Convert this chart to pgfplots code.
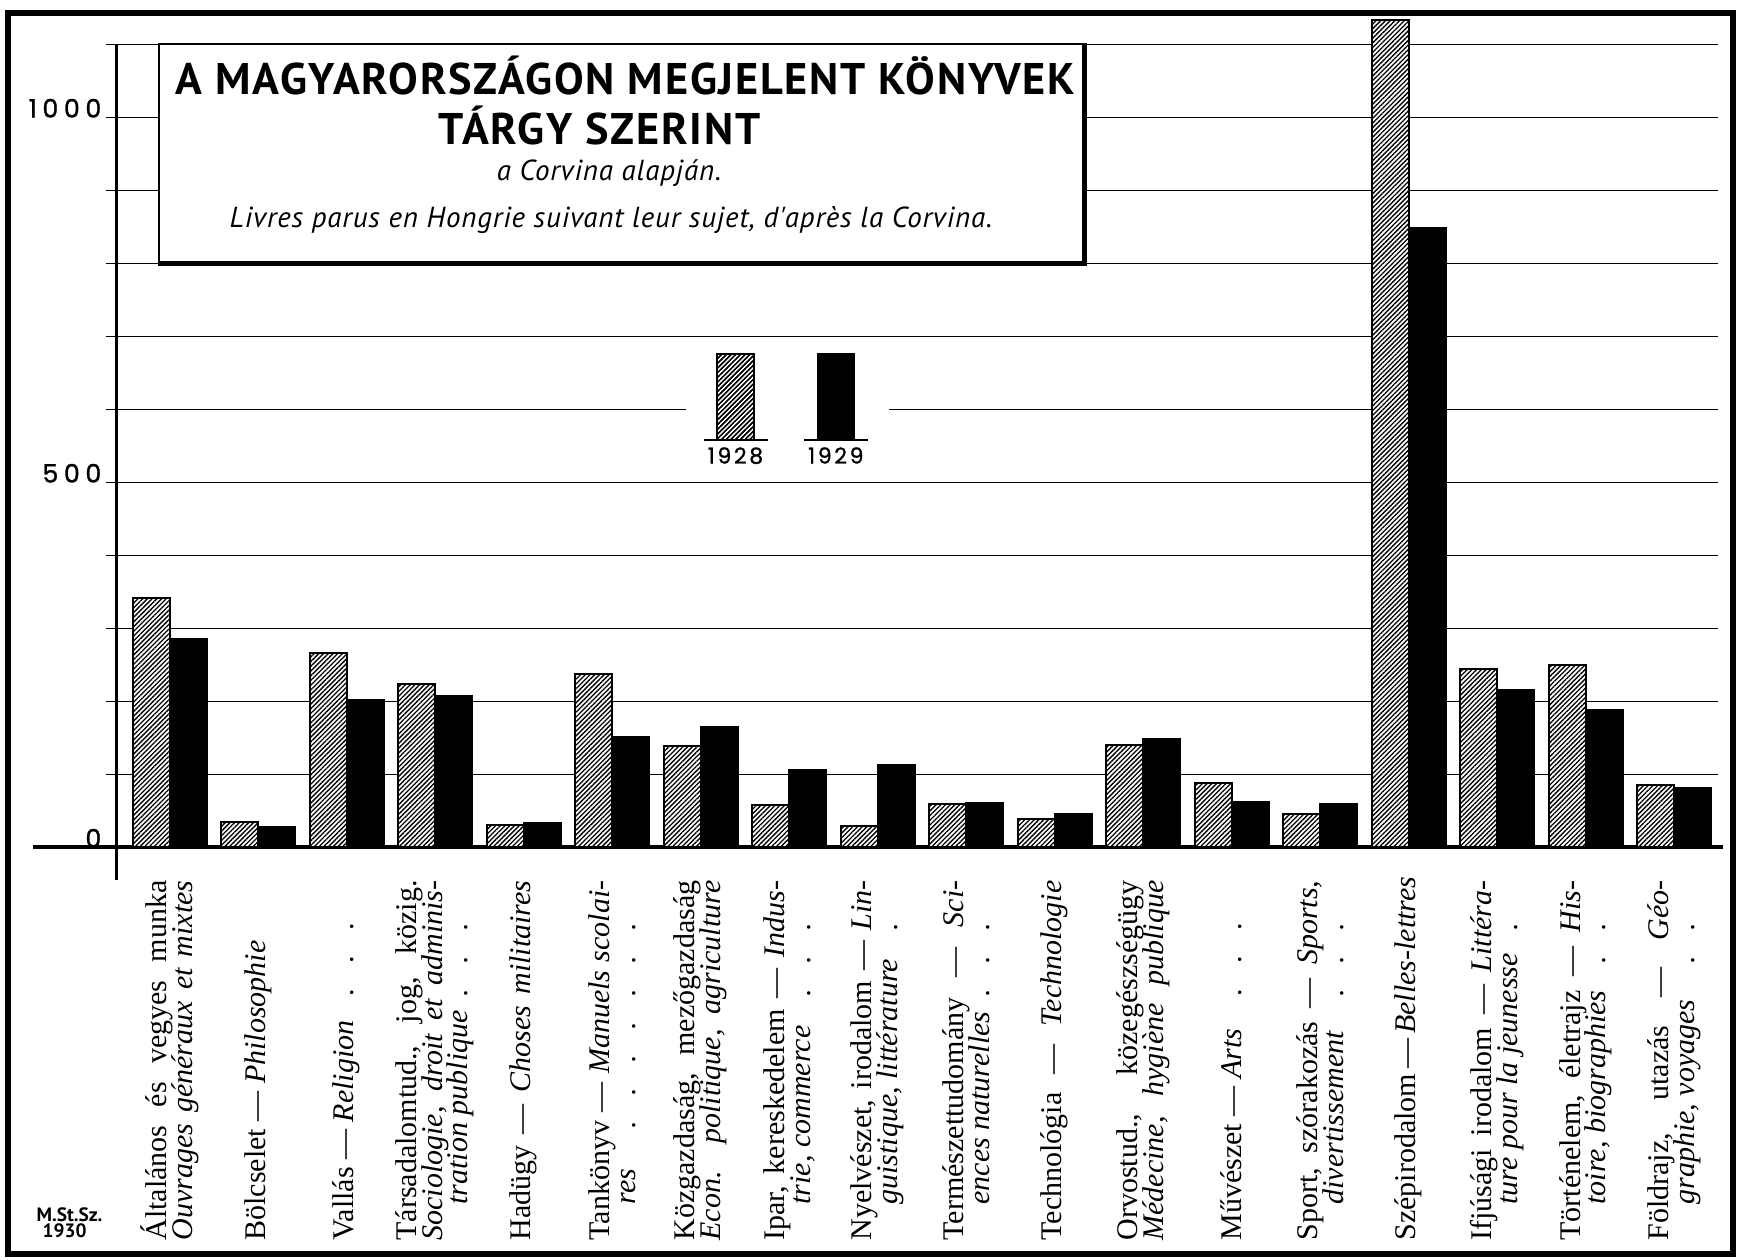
\documentclass[border=0pt]{standalone}
\usepackage{fontspec}
\usepackage{pgfplots}
\pgfplotsset{compat=1.18}
\usepackage{pgfplotstable}
\usetikzlibrary{patterns.meta}
\setmainfont{Liberation Serif}
\newfontfamily\titlefont[LetterSpace=4]{PT Sans}
\newfontfamily\subfont[LetterSpace=3]{PT Sans}
\newfontfamily\tickfont[LetterSpace=22,FakeBold=1.2]{Poppins}
\newfontfamily\legfont[LetterSpace=12,FakeBold=1]{Poppins}
\newfontfamily\markfont{PT Sans}

\newcommand\Lline[1]{\hbox to 108pt{#1}}
\newcommand\dotlead{\leaders\hbox to 1.1em{\hss.\hss}\hfill}
\newcommand\catlab[1]{\parbox{108pt}{\fontsize{9}{7.7}\selectfont\lineskiplimit=-100pt\lineskip=0pt #1}}

\pgfplotstableread{
x y
0 342
1 35
2 266
3 224
4 31
5 237
6 139
7 58
8 29
9 59
10 39
11 141
12 88
13 46
14 1133
15 245
16 250
17 86
}\tA
\pgfplotstableread{
x y
0 286
1 28
2 202
3 207
4 34
5 151
6 165
7 106
8 113
9 61
10 46
11 148
12 62
13 60
14 849
15 216
16 188
17 81
}\tB

\begin{document}
\begin{tikzpicture}
\path[use as bounding box] (0pt,0pt) rectangle (523.2pt,378pt);
\begin{axis}[
 at={(35.1pt,123.75pt)}, anchor=south west,
 scale only axis, width=480.3pt, height=240.9pt,
 xmin=-0.594, xmax=17.496, ymin=0, ymax=1100,
 clip=false,
 axis x line=bottom, axis y line=left,
 x axis line style={-, line width=1.2pt, shorten <=-25.2pt, shorten >=-1.5pt},
 y axis line style={-, line width=0.9pt, shorten <=-9.8pt},
 ytick={0,100,...,1100},
 yticklabels={0,,,,,500,,,,,1000,},
 ymajorgrids, grid style={line width=0.55pt, black},
 tick align=outside, major tick length=3.3pt,
 ytick style={line width=0.55pt, black},
 yticklabel style={anchor=base east, inner sep=0pt, font=\tickfont\fontsize{7.6}{7.6}\selectfont, xshift=-1.2pt},
 xtick={0,...,17}, xtick style={draw=none},
 xticklabel style={rotate=90, anchor=east, inner sep=0pt},
 xticklabel shift=6.4pt,
 xticklabels={
 {\catlab{\Lline{Általános és vegyes munka}\Lline{\itshape Ouvrages généraux et mixtes}}},
 {\catlab{\Lline{Bölcselet — \textit{Philosophie}\dotlead}}},
 {\catlab{\Lline{Vallás — \textit{Religion}\dotlead}}},
 {\catlab{\Lline{Társadalomtud., jog, közig.}\Lline{\itshape Sociologie, droit et adminis-}\Lline{\hspace*{1.2em}\itshape tration publique\dotlead}}},
 {\catlab{\Lline{Hadügy — \textit{Choses militaires}}}},
 {\catlab{\Lline{Tankönyv — \textit{Manuels scolai-}}\Lline{\hspace*{1.2em}\itshape res\dotlead}}},
 {\catlab{\Lline{Közgazdaság, mezőgazdaság}\Lline{\itshape Econ. politique, agriculture}}},
 {\catlab{\Lline{Ipar, kereskedelem — \textit{Indus-}}\Lline{\hspace*{1.2em}\itshape trie, commerce\dotlead}}},
 {\catlab{\Lline{Nyelvészet, irodalom — \textit{Lin-}}\Lline{\hspace*{1.2em}\itshape guistique, littérature\dotlead}}},
 {\catlab{\Lline{Természettudomány — \textit{Sci-}}\Lline{\hspace*{1.2em}\itshape ences naturelles\dotlead}}},
 {\catlab{\Lline{Technológia — \textit{Technologie}}}},
 {\catlab{\Lline{Orvostud., közegészségügy}\Lline{\itshape Médecine, hygiène publique}}},
 {\catlab{\Lline{Művészet — \textit{Arts}\dotlead}}},
 {\catlab{\Lline{Sport, szórakozás — \textit{Sports,}}\Lline{\hspace*{1.2em}\itshape divertissement\dotlead}}},
 {\catlab{\Lline{Szépirodalom — \textit{Belles-lettres}}}},
 {\catlab{\Lline{Ifjúsági irodalom — \textit{Littéra-}}\Lline{\hspace*{1.2em}\itshape ture pour la jeunesse\dotlead}}},
 {\catlab{\Lline{Történelem, életrajz — \textit{His-}}\Lline{\hspace*{1.2em}\itshape toire, biographies\dotlead}}},
 {\catlab{\Lline{Földrajz, utazás — \textit{Géo-}}\Lline{\hspace*{1.2em}\itshape graphie, voyages\dotlead}}}
 },
 ybar, bar width=0.418,
 legend style={at={(0.4187,0.5436)}, anchor=center, draw=none, fill=white,
   inner xsep=5pt, inner ysep=2pt, legend columns=2, nodes={inner sep=0pt},
   /tikz/every even column/.append style={column sep=9.3pt}},
]
\addplot[draw=black, line width=0.6pt, fill=white,
  postaction={pattern={Lines[angle=45,distance=1pt,line width=0.4pt]}},
  bar shift=-0.209,
  legend image code/.code={
    \draw[line width=0.6pt] (-9.6pt,0pt) -- (9.6pt,0pt);
    \draw[line width=0.6pt, fill=white, postaction={pattern={Lines[angle=45,distance=1pt,line width=0.4pt]}}] (-5.5pt,0pt) rectangle (5.5pt,25.8pt);
    \node[inner sep=0pt, anchor=north, font=\legfont\fontsize{6.6}{6.6}\selectfont] at (0pt,-1.8pt) {1928};
  }] table[x=x,y=y]{\tA};
\addlegendentry{}
\addplot[draw=black, fill=black, line width=0.6pt, bar shift=0.209,
  legend image code/.code={
    \draw[line width=0.6pt] (-9.6pt,0pt) -- (9.6pt,0pt);
    \draw[line width=0.6pt, fill=black] (-5.5pt,0pt) rectangle (5.5pt,25.8pt);
    \node[inner sep=0pt, anchor=north, font=\legfont\fontsize{6.6}{6.6}\selectfont] at (0pt,-1.8pt) {1929};
  }] table[x=x,y=y]{\tB};
\addlegendentry{}
\end{axis}
% title box
\fill[white] (47.7pt,298.95pt) rectangle (325.2pt,364.65pt);
\draw[line width=0.6pt] (47.7pt,298.95pt) rectangle (325.2pt,364.65pt);
\draw[line width=1.5pt] (47.4pt,298.95pt) -- (325.2pt,298.95pt) -- (325.2pt,364.95pt);
\node[anchor=base, inner sep=0pt] at (187.65pt,349.65pt) {\titlefont\bfseries\fontsize{13.3}{14}\selectfont A MAGYARORSZÁGON MEGJELENT KÖNYVEK};
\node[anchor=base, inner sep=0pt] at (179.85pt,334.6pt) {\titlefont\bfseries\fontsize{13.3}{14}\selectfont TÁRGY SZERINT};
\node[anchor=base, inner sep=0pt] at (182.7pt,323.7pt) {\subfont\itshape\fontsize{8.7}{9}\selectfont a Corvina alapján.};
\node[anchor=base, inner sep=0pt] at (183.3pt,309.6pt) {\subfont\itshape\fontsize{8.7}{9}\selectfont Livres parus en Hongrie suivant leur sujet, d'après la Corvina.};
% signature
\node[anchor=base west, inner sep=0pt] at (10.8pt,11.4pt) {\markfont\bfseries\fontsize{5.8}{6}\selectfont M.St.Sz.};
\node[anchor=base west, inner sep=0pt] at (12.6pt,6.6pt) {\markfont\bfseries\fontsize{5.8}{6}\selectfont 1930};
% frame
\draw[line width=1.8pt] (2.4pt,1.8pt) rectangle (519.9pt,374.1pt);
\end{tikzpicture}
\end{document}
